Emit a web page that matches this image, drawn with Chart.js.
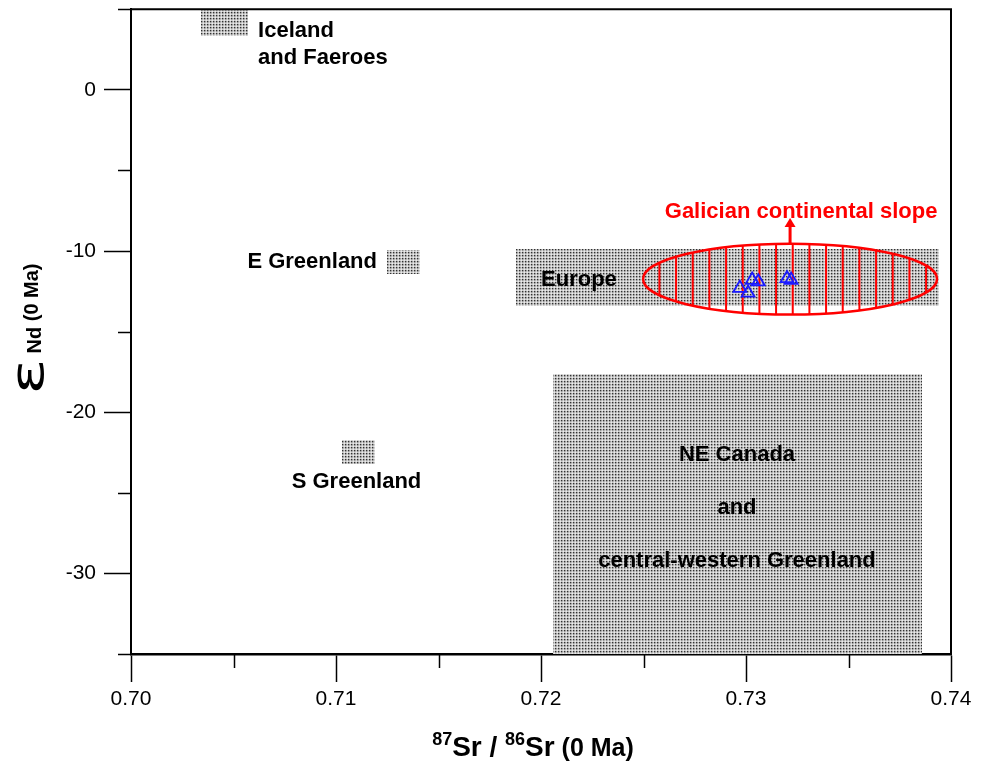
<!DOCTYPE html>
<html>
<head>
<meta charset="utf-8">
<script src="https://cdn.jsdelivr.net/npm/chart.js@4"></script>
<style>
  html, body { margin: 0; padding: 0; background: #fff; }
  #wrap { width: 987px; height: 770px; }
</style>
</head>
<body>
<div id="wrap"><canvas id="isoChart" width="987" height="770"></canvas></div>
<script>
// axis ticks
const xTicks = [0.70, 0.71, 0.72, 0.73, 0.74];
const xMinorTicks = [0.705, 0.715, 0.725, 0.735];
const yTicks = [0, -10, -20, -30];
const yMinorTicks = [5, -5, -15, -25, -35];

// source fields (shaded boxes)
const regionXMin = [0.7034, 0.7125, 0.7103, 0.7188, 0.7206];
const regionXMax = [0.7057, 0.7141, 0.7119, 0.7394, 0.7386];
const regionYMin = [3.35, -11.4, -23.2, -13.4, -35];
const regionYMax = [5, -9.95, -21.7, -9.9, -17.6];

// Galician continental slope field (ellipse)
const slopeX = 0.73215;
const slopeY = -11.74;
const slopeRX = 0.00717;
const slopeRY = 2.2;

// samples (open triangles)
const sampleX = [0.7297, 0.7301, 0.7303, 0.7306, 0.7320, 0.7322];
const sampleY = [-12.3, -12.6, -11.8, -11.9, -11.7, -11.8];

// annotation labels, anchored in data units
const labelText = ['Iceland', 'and Faeroes', 'E Greenland', 'S Greenland', 'Europe',
                   'NE Canada', 'and', 'central-western Greenland'];
const labelX = [0.7062, 0.7062, 0.7120, 0.7110, 0.72185, 0.72956, 0.72956, 0.72956];
const labelY = [3.29, 1.61, -11.06, -24.72, -12.17, -23.04, -26.34, -29.63];
const labelAlign = ['left', 'left', 'right', 'center', 'center', 'center', 'center', 'center'];
const slopeLabel = 'Galician continental slope';
const slopeLabelY = -7.95;

const FONT = '"Liberation Sans", Arial, Helvetica, sans-serif';

function makeStipple(ctx) {
    const tile = document.createElement('canvas');
    tile.width = 3;
    tile.height = 3;
    const t = tile.getContext('2d');
    const shades = [[50, 150, 200], [150, 185, 215], [200, 215, 235]];
    for (let r = 0; r < 3; r++) {
        for (let c = 0; c < 3; c++) {
            const v = shades[r][c];
            t.fillStyle = 'rgb(' + v + ',' + v + ',' + v + ')';
            t.fillRect(c, r, 1, 1);
        }
    }
    return ctx.createPattern(tile, 'repeat');
}

const fieldsPlugin = {
    id: 'fields',
    beforeDatasetsDraw(chart) {
        const { ctx, scales: { x, y } } = chart;
        ctx.save();
        ctx.fillStyle = makeStipple(ctx);
        regionXMin.forEach((x0, i) => {
            const left = Math.round(x.getPixelForValue(x0));
            const right = Math.round(x.getPixelForValue(regionXMax[i]));
            const top = Math.round(y.getPixelForValue(regionYMax[i]));
            const bottom = Math.round(y.getPixelForValue(regionYMin[i]));
            ctx.fillRect(left, top, right - left, bottom - top);
        });

        // ellipse with vertical hatching
        const cx = x.getPixelForValue(slopeX);
        const cy = y.getPixelForValue(slopeY);
        const rx = x.getPixelForValue(slopeX + slopeRX) - cx;
        const ry = cy - y.getPixelForValue(slopeY + slopeRY);
        const step = x.getPixelForValue(slopeX + 0.000813) - cx;
        ctx.strokeStyle = '#ff0000';
        ctx.save();
        ctx.beginPath();
        ctx.ellipse(cx, cy, rx, ry, 0, 0, Math.PI * 2);
        ctx.clip();
        ctx.lineWidth = 2;
        for (let k = -8; k <= 8; k++) {
            const sx = cx + (k + 0.16) * step;
            ctx.beginPath();
            ctx.moveTo(sx, cy - ry);
            ctx.lineTo(sx, cy + ry);
            ctx.stroke();
        }
        ctx.restore();
        ctx.lineWidth = 2.5;
        ctx.beginPath();
        ctx.ellipse(cx, cy, rx, ry, 0, 0, Math.PI * 2);
        ctx.stroke();

        // arrow up to the label
        const tipY = y.getPixelForValue(slopeLabelY);
        ctx.lineWidth = 3;
        ctx.beginPath();
        ctx.moveTo(cx, cy - ry);
        ctx.lineTo(cx, tipY + 6);
        ctx.stroke();
        ctx.fillStyle = '#ff0000';
        ctx.beginPath();
        ctx.moveTo(cx, tipY);
        ctx.lineTo(cx - 5.5, tipY + 9);
        ctx.lineTo(cx + 5.5, tipY + 9);
        ctx.closePath();
        ctx.fill();
        ctx.restore();
    },
    afterDraw(chart) {
        const { ctx, chartArea: a, scales: { x, y } } = chart;
        ctx.save();

        // frame top and right
        ctx.strokeStyle = '#000';
        ctx.lineWidth = 2;
        ctx.beginPath();
        ctx.moveTo(a.left, a.top);
        ctx.lineTo(a.right, a.top);
        ctx.lineTo(a.right, a.bottom);
        ctx.stroke();

        // minor ticks
        ctx.lineWidth = 1.5;
        xMinorTicks.forEach(v => {
            const px = Math.round(x.getPixelForValue(v)) + 0.5;
            ctx.beginPath();
            ctx.moveTo(px, a.bottom);
            ctx.lineTo(px, a.bottom + 14);
            ctx.stroke();
        });
        yMinorTicks.forEach(v => {
            const py = Math.round(y.getPixelForValue(v)) + 0.5;
            ctx.beginPath();
            ctx.moveTo(a.left, py);
            ctx.lineTo(a.left - 13, py);
            ctx.stroke();
        });

        // field labels
        ctx.fillStyle = '#000';
        ctx.font = 'bold 22px ' + FONT;
        ctx.textBaseline = 'alphabetic';
        labelText.forEach((t, i) => {
            ctx.textAlign = labelAlign[i];
            ctx.fillText(t, x.getPixelForValue(labelX[i]), y.getPixelForValue(labelY[i]));
        });
        ctx.fillStyle = '#ff0000';
        ctx.textAlign = 'center';
        ctx.fillText(slopeLabel, x.getPixelForValue(slopeX) + 11, y.getPixelForValue(slopeLabelY));

        // x axis title: 87Sr / 86Sr (0 Ma)
        const xParts = [
            ['87', 'bold 18px ' + FONT, -11],
            ['Sr', 'bold 28px ' + FONT, 0],
            [' / ', 'bold 28px ' + FONT, 0],
            ['86', 'bold 18px ' + FONT, -11],
            ['Sr', 'bold 28px ' + FONT, 0],
            [' (0 Ma)', 'bold 25px ' + FONT, 0]
        ];
        ctx.fillStyle = '#000';
        ctx.textAlign = 'left';
        let total = 0;
        xParts.forEach(p => { ctx.font = p[1]; total += ctx.measureText(p[0]).width; });
        let tx = 533 - total / 2;
        xParts.forEach(p => {
            ctx.font = p[1];
            ctx.fillText(p[0], tx, 756 + p[2]);
            tx += ctx.measureText(p[0]).width;
        });

        // y axis title: eps_Nd (0 Ma), rotated; epsilon stretched along the text
        const epsFont = '46px "DejaVu Sans", ' + FONT;
        const epsStretch = 1.45;
        const ndFont = 'bold 20px ' + FONT;
        ctx.font = epsFont;
        const epsW = ctx.measureText('\u03b5').width * epsStretch;
        ctx.font = ndFont;
        const ndW = ctx.measureText('Nd').width;
        const maW = ctx.measureText(' (0 Ma)').width;
        total = epsW + 5 + ndW + maW;
        ctx.translate(40, 329 + total / 2);
        ctx.rotate(-Math.PI / 2);
        ctx.save();
        ctx.scale(epsStretch, 1);
        ctx.font = epsFont;
        ctx.fillText('\u03b5', 0, 3);
        ctx.restore();
        ctx.font = ndFont;
        ctx.fillText('Nd', epsW + 5, 1);
        ctx.fillText(' (0 Ma)', epsW + 5 + ndW, -2);
        ctx.restore();
    }
};

new Chart(document.getElementById('isoChart'), {
    type: 'scatter',
    data: {
        datasets: [{
            label: 'Galician continental slope samples',
            data: sampleX.map((v, i) => ({ x: v, y: sampleY[i] })),
            pointStyle: 'triangle',
            pointRadius: 7.5,
            pointBorderWidth: 1.8,
            borderColor: '#1a1aff',
            backgroundColor: 'rgba(0,0,0,0)'
        }]
    },
    options: {
        responsive: false,
        animation: false,
        layout: { padding: { top: 8, right: 36, left: 0, bottom: 0 } },
        plugins: {
            legend: { display: false },
            tooltip: { enabled: false }
        },
        scales: {
            x: {
                type: 'linear',
                min: 0.70,
                max: 0.74,
                z: 1,
                afterBuildTicks: s => { s.ticks = xTicks.map(v => ({ value: v })); },
                afterFit: s => { s.height = 116; },
                ticks: {
                    autoSkip: false,
                    maxRotation: 0,
                    padding: 5,
                    color: '#000',
                    font: { family: FONT, size: 21 },
                    callback: v => Number(v).toFixed(2)
                },
                grid: {
                    drawOnChartArea: false,
                    drawTicks: true,
                    tickLength: 28,
                    tickColor: '#000',
                    tickWidth: 1.5
                },
                border: { display: true, color: '#000', width: 2.5 }
            },
            y: {
                type: 'linear',
                min: -35,
                max: 5,
                z: 1,
                afterBuildTicks: s => { s.ticks = yTicks.map(v => ({ value: v })); },
                afterFit: s => {
                    s.width = 131;
                    s.paddingTop = 0;
                    s.paddingBottom = 0;
                },
                ticks: {
                    autoSkip: false,
                    padding: 8,
                    color: '#000',
                    font: { family: FONT, size: 21 },
                    callback: v => String(v)
                },
                grid: {
                    drawOnChartArea: false,
                    drawTicks: true,
                    tickLength: 27,
                    tickColor: '#000',
                    tickWidth: 1.5
                },
                border: { display: true, color: '#000', width: 2 }
            }
        }
    },
    plugins: [fieldsPlugin]
});
</script>
</body>
</html>
